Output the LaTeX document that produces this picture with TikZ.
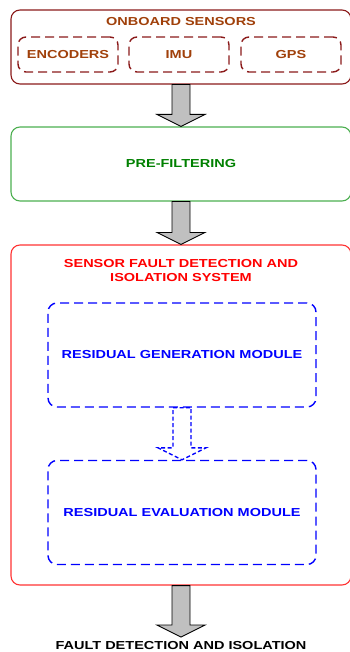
\documentclass[tikz,border=0pt]{standalone}
\usepackage{fontspec}
\setmainfont[FakeStretch=1.25]{Liberation Sans}
\usetikzlibrary{positioning,calc}

\definecolor{sensred}{HTML}{8B1A1A}
\definecolor{senstext}{HTML}{A0400A}
\definecolor{filtgreen}{HTML}{4CAF50}
\definecolor{filttext}{HTML}{008000}
\definecolor{sysred}{HTML}{FF3333}
\definecolor{arrowgray}{HTML}{C0C0C0}

\tikzset{
  labelfont/.style={font=\bfseries\fontsize{11.6}{14}\selectfont},
  outerbox/.style={draw, rounded corners=9pt, line width=1.1pt, minimum width=340pt, inner sep=0pt},
  sensorbox/.style={draw=sensred, dash pattern=on 9pt off 5pt, rounded corners=8pt, line width=1.4pt,
    minimum width=100pt, minimum height=35pt, text=senstext, labelfont},
  modulebox/.style={draw=blue, dash pattern=on 9pt off 5pt, rounded corners=9pt, line width=1.4pt,
    minimum width=268pt, minimum height=104pt, text=blue, labelfont},
  boxtitle/.style={labelfont, align=center}
}

% fat arrow from the bottom of #2 to the top of #3
\newcommand{\fatarrow}[3][draw=black, fill=arrowgray, line width=0.9pt]{%
  \path[#1] ($(#2.south)+(-9,0)$) -- ($(#2.south)+(9,0)$)
    -- ($(#3.north)+(9,-12)$) -- ($(#3.north)+(24,-12)$) -- (#3.north)
    -- ($(#3.north)+(-24,-12)$) -- ($(#3.north)+(-9,-12)$) -- cycle;}

\begin{document}
\begin{tikzpicture}[x=1pt, y=-1pt]
  \useasboundingbox (0,0) rectangle (349,652);

  % onboard sensors
  \node[outerbox, draw=sensred, minimum height=74pt] (sensors) at (181,47) {};
  \node[boxtitle, text=senstext] (sensorstitle) at (181,21.5) {ONBOARD SENSORS};
  \node[sensorbox] (encoders) at (68,54.5) {ENCODERS};
  \node[sensorbox] (imu) at (179,54.5) {IMU};
  \node[sensorbox] (gps) at (291,54.5) {GPS};

  % pre-filtering
  \node[outerbox, draw=filtgreen, minimum height=74pt, text=filttext, labelfont] (prefilter) at (181,164) {PRE-FILTERING};

  % fault detection and isolation system
  \node[outerbox, draw=sysred, minimum height=340pt] (sfdi) at (181,415) {};
  \node[boxtitle, text=red] (sfdititle) at (181,270.5) {SENSOR FAULT DETECTION AND\\ISOLATION SYSTEM};
  \node[modulebox] (resgen) at (182,355) {RESIDUAL GENERATION MODULE};
  \node[modulebox] (reseval) at (182,512.5) {RESIDUAL EVALUATION MODULE};

  % output
  \node[labelfont] (output) at (181,645.5) {FAULT DETECTION AND ISOLATION};
  \coordinate (outtip) at (181,637);

  % arrows
  \fatarrow{sensors}{prefilter}
  \fatarrow{prefilter}{sfdi}
  \fatarrow[draw=blue, dash pattern=on 4pt off 2.5pt, line width=1.4pt]{resgen}{reseval}
  \path[draw=black, fill=arrowgray, line width=0.9pt] ($(sfdi.south)+(-9,0)$) -- ($(sfdi.south)+(9,0)$)
    -- ($(outtip)+(9,-12)$) -- ($(outtip)+(24,-12)$) -- (outtip)
    -- ($(outtip)+(-24,-12)$) -- ($(outtip)+(-9,-12)$) -- cycle;
\end{tikzpicture}
\end{document}
